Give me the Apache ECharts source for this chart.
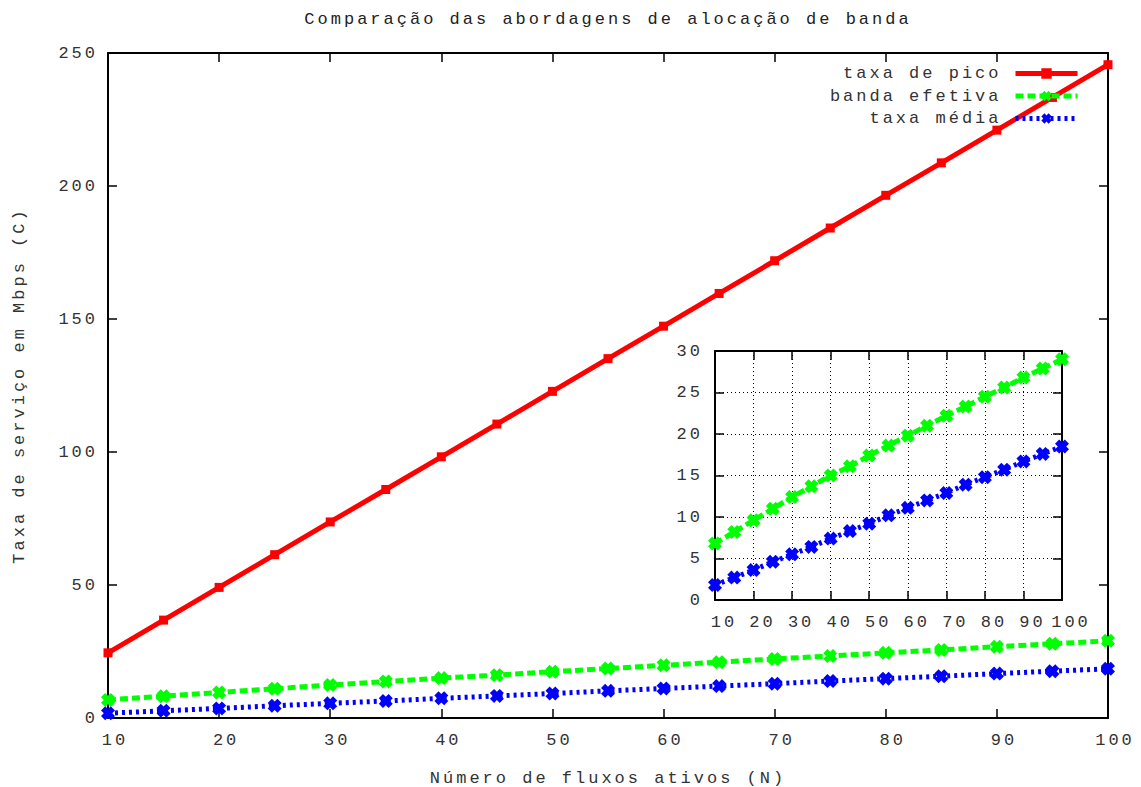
<!DOCTYPE html>
<html>
<head>
<meta charset="utf-8">
<script src="https://cdn.jsdelivr.net/npm/echarts@6/dist/echarts.min.js"></script>
<style>
  html, body { margin: 0; padding: 0; background: #fff; }
  #chart { width: 1141px; height: 787px; }
  #chart text { letter-spacing: 3px; }
</style>
</head>
<body>
<div id="chart"></div>
<script>
// Número de fluxos ativos (N)
const fluxos = [10, 15, 20, 25, 30, 35, 40, 45, 50, 55, 60, 65, 70, 75, 80, 85, 90, 95, 100];
// Taxa de serviço (Mbps) para cada abordagem
const taxaPico = [24.5, 36.8, 49.1, 61.4, 73.7, 85.9, 98.2, 110.5, 122.8, 135.1, 147.3, 159.6, 171.9, 184.2, 196.5, 208.7, 221.0, 233.3, 245.6];
const bandaEfetiva = [6.8, 8.2, 9.6, 11.0, 12.4, 13.7, 15.0, 16.1, 17.4, 18.6, 19.8, 21.0, 22.2, 23.3, 24.5, 25.6, 26.8, 27.9, 29.0];
const taxaMedia = [1.8, 2.7, 3.6, 4.6, 5.5, 6.4, 7.4, 8.3, 9.2, 10.2, 11.1, 12.0, 12.9, 13.9, 14.8, 15.7, 16.7, 17.6, 18.5];
const nomes = ['taxa de pico', 'banda efetiva', 'taxa média'];
const titulo = 'Comparação das abordagens de alocação de banda';
const rotuloX = 'Número de fluxos ativos (N)';
const rotuloY = 'Taxa de serviço em Mbps (C)';

const FONT = 'Liberation Mono';
const TXT = '#333';
const cross = 'path://M0,3L3,0L5,2L7,0L10,3L8,5L10,7L7,10L5,8L3,10L0,7L2,5Z';

const pares = vals => fluxos.map((n, i) => [n, vals[i]]);

const estilos = [
  { color: '#ff0000', line: { width: 5, type: 'solid' }, symbol: 'rect', size: 9 },
  { color: '#00ff00', line: { width: 5, type: [8, 4] }, symbol: cross, size: 14 },
  { color: '#0000ff', line: { width: 5, type: [3, 4] }, symbol: cross, size: 14 }
];

function eixo(grid, pos, min, max, interval, labels, extra) {
  return Object.assign({
    gridIndex: grid, type: 'value', position: pos, min: min, max: max, interval: interval,
    axisLine: { onZero: false, lineStyle: { color: '#000', width: 2 } },
    axisTick: { inside: true, length: 9, lineStyle: { color: '#000', width: 1.5 } },
    axisLabel: { show: labels, fontFamily: FONT, fontSize: 17, color: TXT },
    splitLine: { show: false }
  }, extra || {});
}

const grade = { show: true, lineStyle: { color: '#000', width: 1, type: [1, 3] } };

function serie(i, vals, xi, yi) {
  const e = estilos[i];
  return {
    name: nomes[i], type: 'line', xAxisIndex: xi, yAxisIndex: yi,
    data: pares(vals), symbol: e.symbol, symbolSize: e.size, clip: false,
    itemStyle: { color: e.color },
    lineStyle: Object.assign({ color: e.color }, e.line),
    emphasis: { disabled: true }, z: 3
  };
}

const chart = echarts.init(document.getElementById('chart'), null, { renderer: 'svg' });
chart.setOption({
  animation: false,
  backgroundColor: '#fff',
  graphic: [{
    type: 'text', x: 608, y: 19,
    style: { text: titulo, font: '17px "Liberation Mono"', fill: '#222', textAlign: 'center', textVerticalAlign: 'middle' }
  }],
  legend: nomes.map((n, i) => ({
    data: [n], right: 61, top: 65 + i * 22.5, align: 'right', orient: 'vertical', padding: 0,
    itemWidth: 62, itemHeight: 13, selectedMode: false,
    lineStyle: { width: 5 },
    textStyle: { fontFamily: FONT, fontSize: 17, color: TXT, padding: [0, 9, 0, 0] }
  })),
  grid: [
    { left: 108, right: 33, top: 53, bottom: 69, show: false, outerBoundsMode: 'none', containLabel: false },
    { left: 715, width: 347, top: 351, height: 249, show: true, backgroundColor: '#fff', borderWidth: 0, z: 5,
      outerBoundsMode: 'none', containLabel: false }
  ],
  xAxis: [
    eixo(0, 'bottom', 10, 100, 10, true, {
      name: rotuloX, nameLocation: 'middle', nameGap: 52,
      nameTextStyle: { fontFamily: FONT, fontSize: 17, color: TXT },
      axisLabel: { fontFamily: FONT, fontSize: 17, color: TXT, margin: 14, padding: [0, 0, 0, 14] }
    }),
    eixo(0, 'top', 10, 100, 10, false),
    eixo(1, 'bottom', 10, 100, 10, true, {
      splitLine: grade, z: 6,
      axisLabel: { fontFamily: FONT, fontSize: 17, color: TXT, margin: 14, padding: [0, 0, 0, 18] }
    }),
    eixo(1, 'top', 10, 100, 10, false, { z: 6 })
  ],
  yAxis: [
    eixo(0, 'left', 0, 250, 50, true, {
      name: rotuloY, nameLocation: 'middle', nameGap: 80,
      nameTextStyle: { fontFamily: FONT, fontSize: 17, color: TXT },
      axisLabel: { fontFamily: FONT, fontSize: 17, color: TXT, margin: 10 }
    }),
    eixo(0, 'right', 0, 250, 50, false),
    eixo(1, 'left', 0, 30, 5, true, {
      splitLine: grade, z: 6,
      axisLabel: { fontFamily: FONT, fontSize: 17, color: TXT, margin: 12 }
    }),
    eixo(1, 'right', 0, 30, 5, false, { z: 6 })
  ],
  series: [
    serie(0, taxaPico, 0, 0),
    serie(1, bandaEfetiva, 0, 0),
    serie(2, taxaMedia, 0, 0),
    Object.assign(serie(1, bandaEfetiva, 2, 2), { z: 7 }),
    Object.assign(serie(2, taxaMedia, 2, 2), { z: 7 })
  ]
});
</script>
</body>
</html>
